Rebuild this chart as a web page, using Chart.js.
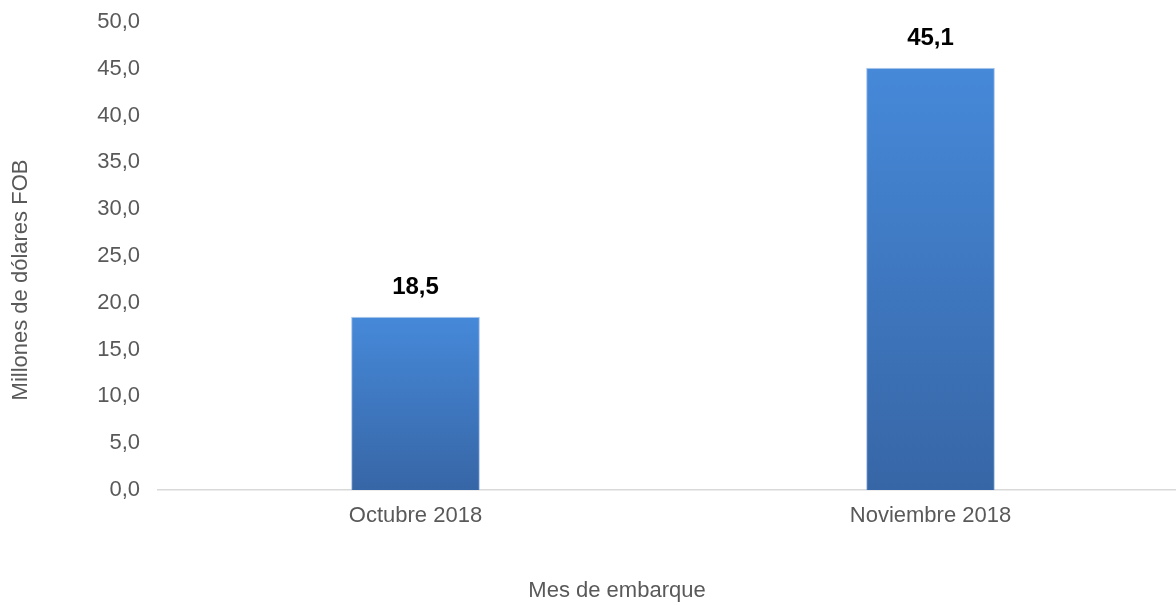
<!DOCTYPE html>
<html>
<head>
<meta charset="utf-8">
<script src="https://cdn.jsdelivr.net/npm/chart.js@4.4.1/dist/chart.umd.min.js"></script>
<style>
  html, body { margin: 0; padding: 0; background: #fff; overflow: hidden; }
  #wrap { width: 1190px; height: 605px; position: relative; }
</style>
</head>
<body>
<div id="wrap"><canvas id="chart"></canvas></div>
<script>
const categories = ["Octubre 2018", "Noviembre 2018"];
const values = [18.5, 45.1];
const yTitle = "Millones de dólares FOB";
const xTitle = "Mes de embarque";

const fmt = (v) => v.toFixed(1).replace(".", ",");
const FONT = "'Liberation Sans', Arial, sans-serif";

// gradient for each bar, from its top down to the axis
function barGradient(ctx) {
	const chart = ctx.chart;
	const y = chart.scales.y;
	if (!chart.chartArea || !y || ctx.dataIndex === undefined) return "#4080d0";
	const top = y.getPixelForValue(values[ctx.dataIndex]);
	const base = y.getPixelForValue(0);
	const g = chart.ctx.createLinearGradient(0, top, 0, base);
	g.addColorStop(0, "#4689d9");
	g.addColorStop(1, "#3766a6");
	return g;
}

const valueLabels = {
	id: "valueLabels",
	afterDatasetsDraw(chart) {
		const c = chart.ctx;
		c.save();
		c.font = "bold 24px " + FONT;
		c.fillStyle = "#000";
		c.textAlign = "center";
		c.textBaseline = "bottom";
		chart.getDatasetMeta(0).data.forEach((bar, i) => {
			c.fillText(fmt(values[i]), bar.x, bar.y - 17);
		});
		c.restore();
	},
};

const axisTitles = {
	id: "axisTitles",
	afterDraw(chart) {
		const c = chart.ctx;
		c.save();
		c.font = "22px " + FONT;
		c.fillStyle = "#595959";
		c.textAlign = "center";
		c.textBaseline = "middle";
		c.fillText(xTitle, 617, 591);
		c.translate(21, 280);
		c.rotate(-Math.PI / 2);
		c.fillText(yTitle, 0, 0);
		c.restore();
	},
};

new Chart(document.getElementById("chart").getContext("2d"), {
	type: "bar",
	data: {
		labels: categories,
		datasets: [
			{
				data: values,
				backgroundColor: barGradient,
				borderColor: "rgba(120,165,225,0.6)",
				borderWidth: 1,
				barPercentage: 0.5,
				categoryPercentage: 0.5,
			},
		],
	},
	options: {
		responsive: true,
		maintainAspectRatio: false,
		animation: false,
		layout: { padding: { top: 22, right: 2, left: 0, bottom: 0 } },
		plugins: {
			legend: { display: false },
			tooltip: { enabled: false },
		},
		scales: {
			x: {
				grid: { display: false, drawTicks: false },
				border: { display: true, color: "#d9d9d9", width: 1.5 },
				ticks: {
					color: "#595959",
					font: { family: FONT, size: 22 },
					padding: 13,
					maxRotation: 0,
				},
				afterFit: (s) => { s.height = 115; },
			},
			y: {
				min: 0,
				max: 50,
				grid: { display: false, drawTicks: false },
				border: { display: false },
				ticks: {
					stepSize: 5,
					color: "#595959",
					font: { family: FONT, size: 22 },
					padding: 18,
					callback: (v) => fmt(v),
				},
				afterFit: (s) => {
					s.width = 158;
					s.paddingTop = 0;
					s.paddingBottom = 0;
				},
			},
		},
	},
	plugins: [valueLabels, axisTitles],
});
</script>
</body>
</html>
